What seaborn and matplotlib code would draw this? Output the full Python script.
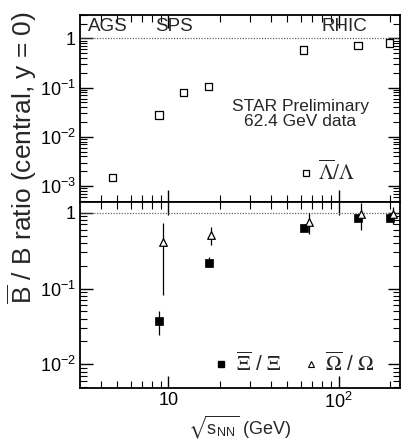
import numpy as np
import pandas as pd
import matplotlib
matplotlib.use('Agg')
import matplotlib.pyplot as plt
import matplotlib.ticker as mticker
from matplotlib.lines import Line2D
import seaborn as sns

# Lambda-bar / Lambda (top panel)
lam_energy = [4.7, 8.8, 12.3, 17.3, 62.4, 130, 200]
lam_ratio = [0.0015, 0.028, 0.08, 0.105, 0.58, 0.73, 0.81]

# Xi-bar / Xi (bottom panel)
xi_energy = [8.8, 17.3, 62.4, 130, 200]
xi_ratio = [0.037, 0.22, 0.63, 0.86, 0.86]
xi_low = [0.024, 0.19, 0.57, 0.78, 0.78]
xi_high = [0.050, 0.26, 0.70, 0.95, 0.95]

# Omega-bar / Omega (bottom panel)
om_energy = [9.3, 17.9, 67, 136, 208]
om_ratio = [0.41, 0.51, 0.76, 0.96, 0.96]
om_low = [0.082, 0.37, 0.53, 0.59, 0.72]
om_high = [0.74, 0.65, 0.98, 1.33, 1.2]

region_labels = ['AGS', 'SPS', 'RHIC']
region_xpos = [0.025, 0.235, 0.755]

lam_df = pd.DataFrame({'energy': lam_energy, 'ratio': lam_ratio})
xi_df = pd.DataFrame({'energy': xi_energy, 'ratio': xi_ratio, 'lo': xi_low, 'hi': xi_high})
om_df = pd.DataFrame({'energy': om_energy, 'ratio': om_ratio, 'lo': om_low, 'hi': om_high})

sns.set_style("ticks")
plt.rcParams['font.family'] = ['Liberation Sans', 'DejaVu Sans']
plt.rcParams['mathtext.fontset'] = 'stix'
plt.rcParams['axes.linewidth'] = 1.3

fig = plt.figure(figsize=(4.01, 4.40), dpi=100)
W, H = 401, 440
left, right = 80 / W, 399.5 / W
top_ax = fig.add_axes([left, 1 - 201.7 / H, right - left, (201.7 - 15) / H])
bot_ax = fig.add_axes([left, 1 - 387.7 / H, right - left, (387.7 - 201.7) / H])

xlim = (3.03, 228)


def log_fmt(v, pos):
    if np.isclose(v, 1):
        return '1'
    if np.isclose(v, 10):
        return '10'
    return r'$\mathdefault{10^{%d}}$' % int(round(np.log10(v)))


for ax in (top_ax, bot_ax):
    ax.set_xscale('log')
    ax.set_yscale('log')
    ax.set_xlim(*xlim)
    ax.axhline(1, color='#666666', ls=(0, (1, 1.2)), lw=0.9, zorder=1)
    ax.tick_params(which='both', direction='in', top=True, right=True, colors='black', labelsize=13)
    ax.tick_params(which='major', length=9, width=1.0, pad=3)
    ax.tick_params(which='minor', length=5, width=0.8)
    ax.yaxis.set_major_locator(mticker.LogLocator(base=10, numticks=10))
    ax.yaxis.set_minor_locator(mticker.LogLocator(base=10, subs=np.arange(2, 10), numticks=20))
    ax.yaxis.set_major_formatter(mticker.FuncFormatter(log_fmt))
    ax.yaxis.set_minor_formatter(mticker.NullFormatter())
    ax.xaxis.set_major_formatter(mticker.FuncFormatter(log_fmt))
    ax.xaxis.set_minor_formatter(mticker.NullFormatter())
    for s in ax.spines.values():
        s.set_color('black')

top_ax.set_ylim(4.8e-4, 3.0)
bot_ax.set_ylim(4.9e-3, 1.4)
top_ax.tick_params(axis='x', labelbottom=False)

# top panel
sns.scatterplot(data=lam_df, x='energy', y='ratio', ax=top_ax, marker='s', s=28,
                facecolor='none', edgecolor='black', linewidth=0.9, zorder=3)

for lab, xp in zip(region_labels, region_xpos):
    top_ax.text(xp, 0.985, lab, transform=top_ax.transAxes, ha='left', va='top', fontsize=13.5)

top_ax.text(0.69, 0.47, 'STAR Preliminary\n62.4 GeV data', transform=top_ax.transAxes,
            ha='center', va='center', fontsize=12.5, linespacing=1.0)

lam_handle = Line2D([], [], ls='none', marker='s', ms=4.5, mfc='none', mec='black', mew=0.9)
top_ax.legend([lam_handle], [r'$\overline{\Lambda}/\Lambda$'], loc='center',
              bbox_to_anchor=(0.77, 0.16), frameon=False, handletextpad=0.2,
              handlelength=0.8, fontsize=15, borderaxespad=0)

# bottom panel
bot_ax.vlines(xi_df['energy'], xi_df['lo'], xi_df['hi'], color='black', lw=0.9, zorder=2)
bot_ax.vlines(om_df['energy'], om_df['lo'], om_df['hi'], color='black', lw=0.9, zorder=2)
sns.scatterplot(data=xi_df, x='energy', y='ratio', ax=bot_ax, marker='s', s=26,
                color='black', edgecolor='black', linewidth=0.5, zorder=3)
sns.scatterplot(data=om_df, x='energy', y='ratio', ax=bot_ax, marker='^', s=30,
                facecolor='white', edgecolor='black', linewidth=0.9, zorder=3)

xi_handle = Line2D([], [], ls='none', marker='s', ms=4, mfc='black', mec='black')
om_handle = Line2D([], [], ls='none', marker='^', ms=4, mfc='white', mec='black', mew=0.8)
bot_ax.legend([xi_handle, om_handle], [r'$\overline{\Xi}$ / $\Xi$', r'$\overline{\Omega}$ / $\Omega$'],
              loc='center', bbox_to_anchor=(0.67, 0.13), ncol=2, frameon=False,
              handletextpad=0.3, handlelength=0.8, columnspacing=1.0, fontsize=15,
              borderaxespad=0)

top_ax.set_xlabel('')
top_ax.set_ylabel('')
bot_ax.set_xlabel('')
bot_ax.set_ylabel('')
fig.text(240 / W, 1 - 427 / H, r'$\sqrt{\mathdefault{s}_{\mathdefault{NN}}}$ (GeV)',
         ha='center', va='center', fontsize=13)
fig.text(22 / W, 1 - 158 / H, r'$\overline{\mathdefault{B}}$ / B ratio (central, y = 0)',
         rotation=90, ha='center', va='center', fontsize=19)

fig.savefig('out.png', dpi=100)
